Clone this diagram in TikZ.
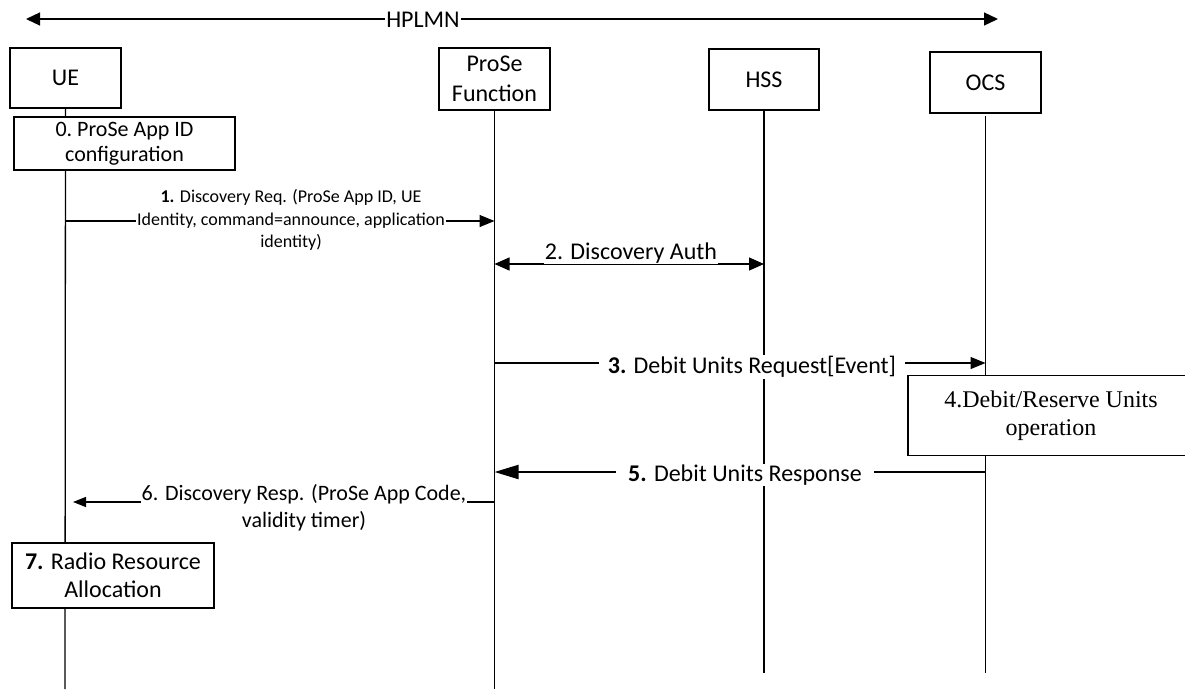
\documentclass[tikz,border=0pt]{standalone}
\usepackage{fontspec}
\setmainfont{Carlito}
\newfontfamily\serifface{Liberation Serif}
\usetikzlibrary{arrows.meta}
\begin{document}
\begin{tikzpicture}[x=1pt,y=-1pt,
  every node/.style={font=\fontsize{24}{30}\selectfont},
  actor/.style={draw,line width=1.3pt,inner sep=0pt,align=center},
  proc/.style={draw,line width=1.3pt,inner sep=0pt,align=center,fill=white},
  life/.style={line width=1.3pt},
  msg/.style={line width=1.3pt,-{Triangle[length=15pt,width=12pt]}},
  bigmsg/.style={line width=2pt,-{Triangle[length=24pt,width=14pt]}},
  smallmsg/.style={line width=1.3pt,-{Triangle[length=13pt,width=10pt]}},
  lbl/.style={fill=white,inner sep=1pt,align=center}]
\useasboundingbox (0,0) rectangle (1185,689);
% HPLMN
\coordinate (hl) at (26,19);
\coordinate (hr) at (998,19);
\draw[line width=1.3pt,{Triangle[length=14pt,width=13pt]}-{Triangle[length=14pt,width=13pt]}] (hl) -- (hr);
\node[fill=white,inner sep=1pt] (hplmn) at (423,20) {HPLMN};
% actors
\node[actor,minimum width=111,minimum height=60] (ue) at (65.5,78) {UE};
\node[actor,minimum width=111,minimum height=62] (pf) at (494.5,79) {ProSe\\Function};
\node[actor,minimum width=110,minimum height=61] (hss) at (764,79.5) {HSS};
\node[actor,minimum width=111,minimum height=61] (ocs) at (985.5,82.5) {OCS};
% lifelines
\coordinate (ueb) at (65,689);
\coordinate (pfb) at (494.5,689);
\coordinate (hsst) at (764,110);
\coordinate (hssb) at (764,673);
\coordinate (ocst) at (985.5,116);
\coordinate (ocsb) at (985.5,673);
\draw[life] (ue.south) -- (ueb);
\draw[life] (pf.south) -- (pfb);
\draw[life] (hsst) -- (hssb);
\draw[life] (ocst) -- (ocsb);
% boxes
\node[proc,minimum width=221,minimum height=53,font=\fontsize{22}{25}\selectfont] (b0) at (124.5,143.5) {0.\hspace{5pt}ProSe App ID\\configuration};
\node[proc,minimum width=202,minimum height=65,font=\fontsize{24}{28}\selectfont] (b7) at (113,575.5) {\textbf{7.} Radio Resource\\Allocation};
\node[proc,minimum width=286,minimum height=80,font=\serifface\fontsize{24}{28}\selectfont] (b4) at (1051,415.5) {4.Debit/Reserve Units\\operation};
% messages
\coordinate (m1a) at (65,221);
\coordinate (m1b) at (494.5,221);
\draw[msg] (m1a) -- (m1b);
\node[lbl,font=\fontsize{18}{22.5}\selectfont] (l1) at (291,220) {\textbf{1.} Discovery Req. (ProSe App ID, UE\\Identity, command=announce, application\\identity)};
\coordinate (m2a) at (494.5,264);
\coordinate (m2b) at (764,264);
\draw[line width=1.3pt,{Triangle[length=15pt,width=13pt]}-{Triangle[length=15pt,width=13pt]}] (m2a) -- (m2b);
\node[lbl] (l2) at (631,253) {2. Discovery Auth};
\coordinate (m3a) at (494.5,363);
\coordinate (m3b) at (985.5,363);
\draw[msg] (m3a) -- (m3b);
\node[lbl,inner xsep=9pt] (l3) at (752,367) {\textbf{3.} Debit Units Request[Event]};
\coordinate (m5a) at (985.5,472);
\coordinate (m5b) at (494.5,472);
\draw[bigmsg] (m5a) -- (m5b);
\node[lbl,inner xsep=12pt] (l5) at (745,475) {\textbf{5.} Debit Units Response};
\coordinate (m6a) at (494.5,502);
\coordinate (m6b) at (65,502);
\draw[smallmsg,shorten >=8pt] (m6a) -- (m6b);
\node[lbl,font=\fontsize{22}{27}\selectfont] (l6) at (304,508) {6. Discovery Resp. (ProSe App Code,\\validity timer)};
\end{tikzpicture}
\end{document}
